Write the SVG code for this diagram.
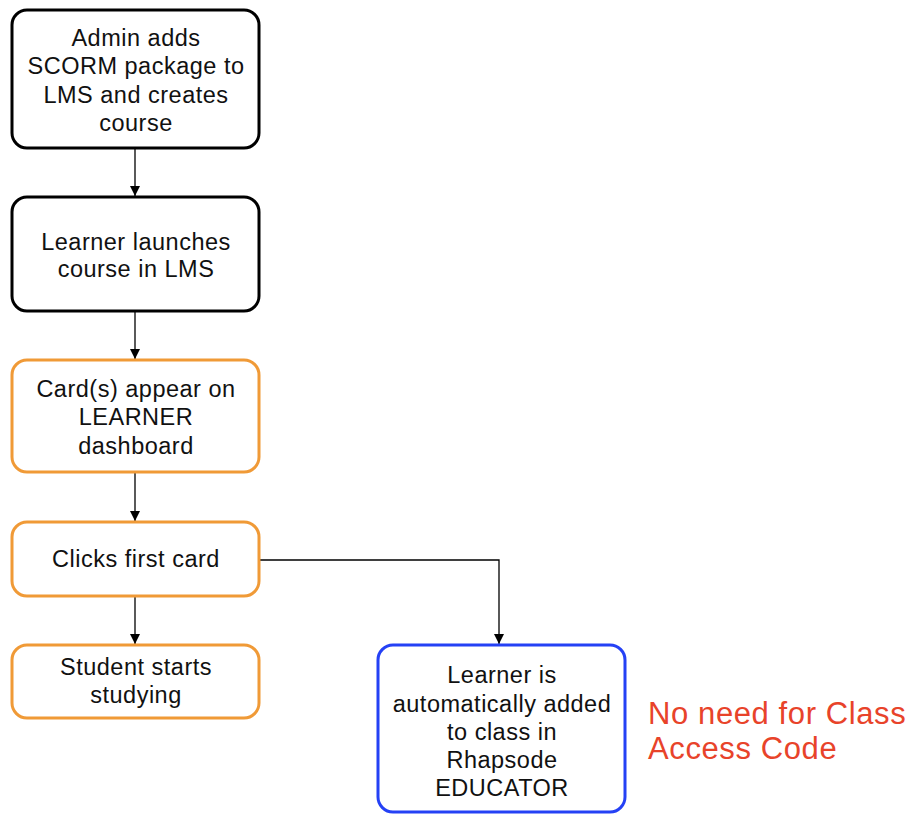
<svg xmlns="http://www.w3.org/2000/svg" width="914" height="814" viewBox="0 0 914 814">
<defs>
<marker id="ah" viewBox="0 0 10 10" refX="10" refY="5" markerWidth="10" markerHeight="10" markerUnits="userSpaceOnUse" orient="auto">
<path d="M0,0 L10,5 L0,10 z" fill="#000"/>
</marker>
<style>
.box{fill:#fff;stroke-width:3}
.blk{stroke:#000}
.org{stroke:#F09A37}
.blu{stroke:#2541F5}
.t{font-family:"Liberation Sans",Arial,sans-serif;font-size:23.5px;letter-spacing:0.5px;fill:#111;text-anchor:middle}
.red{font-family:"Liberation Sans",Arial,sans-serif;font-size:31px;letter-spacing:0.6px;fill:#E8432A}
.c{stroke:#000;stroke-width:1.3;fill:none}
</style>
</defs>
<rect width="914" height="814" fill="#fff"/>
<g id="connectors">
<path class="c" d="M135,149 V196" marker-end="url(#ah)"/>
<path class="c" d="M135,312 V359" marker-end="url(#ah)"/>
<path class="c" d="M135,473 V521" marker-end="url(#ah)"/>
<path class="c" d="M135,597 V644" marker-end="url(#ah)"/>
<path class="c" d="M260,560 H499 V644" stroke="#555" marker-end="url(#ah)"/>
</g>
<g id="n1"><rect class="box blk" x="12" y="10" width="247" height="138" rx="15"/>
<text class="t" x="136" y="46">Admin adds</text><text class="t" x="136" y="74">SCORM package to</text><text class="t" x="136" y="103">LMS and creates</text><text class="t" x="136" y="131">course</text></g>
<g id="n2"><rect class="box blk" x="12" y="197" width="247" height="114" rx="15"/>
<text class="t" x="136" y="250">Learner launches</text><text class="t" x="136" y="277">course in LMS</text></g>
<g id="n3"><rect class="box org" x="12" y="360" width="247" height="112" rx="15"/>
<text class="t" x="136" y="397">Card(s) appear on</text><text class="t" x="136" y="425">LEARNER</text><text class="t" x="136" y="454">dashboard</text></g>
<g id="n4"><rect class="box org" x="12" y="522" width="247" height="74" rx="15"/>
<text class="t" x="136" y="567">Clicks first card</text></g>
<g id="n5"><rect class="box org" x="12" y="645" width="247" height="73" rx="15"/>
<text class="t" x="136" y="675">Student starts</text><text class="t" x="136" y="703">studying</text></g>
<g id="n6"><rect class="box blu" x="378" y="645" width="247" height="167" rx="15"/>
<text class="t" x="502" y="683">Learner is</text><text class="t" x="502" y="712">automatically added</text><text class="t" x="502" y="740">to class in</text><text class="t" x="502" y="768">Rhapsode</text><text class="t" x="502" y="796">EDUCATOR</text></g>
<g id="note"><text class="red" x="648" y="724">No need for Class</text><text class="red" x="648" y="759">Access Code</text></g>
</svg>
